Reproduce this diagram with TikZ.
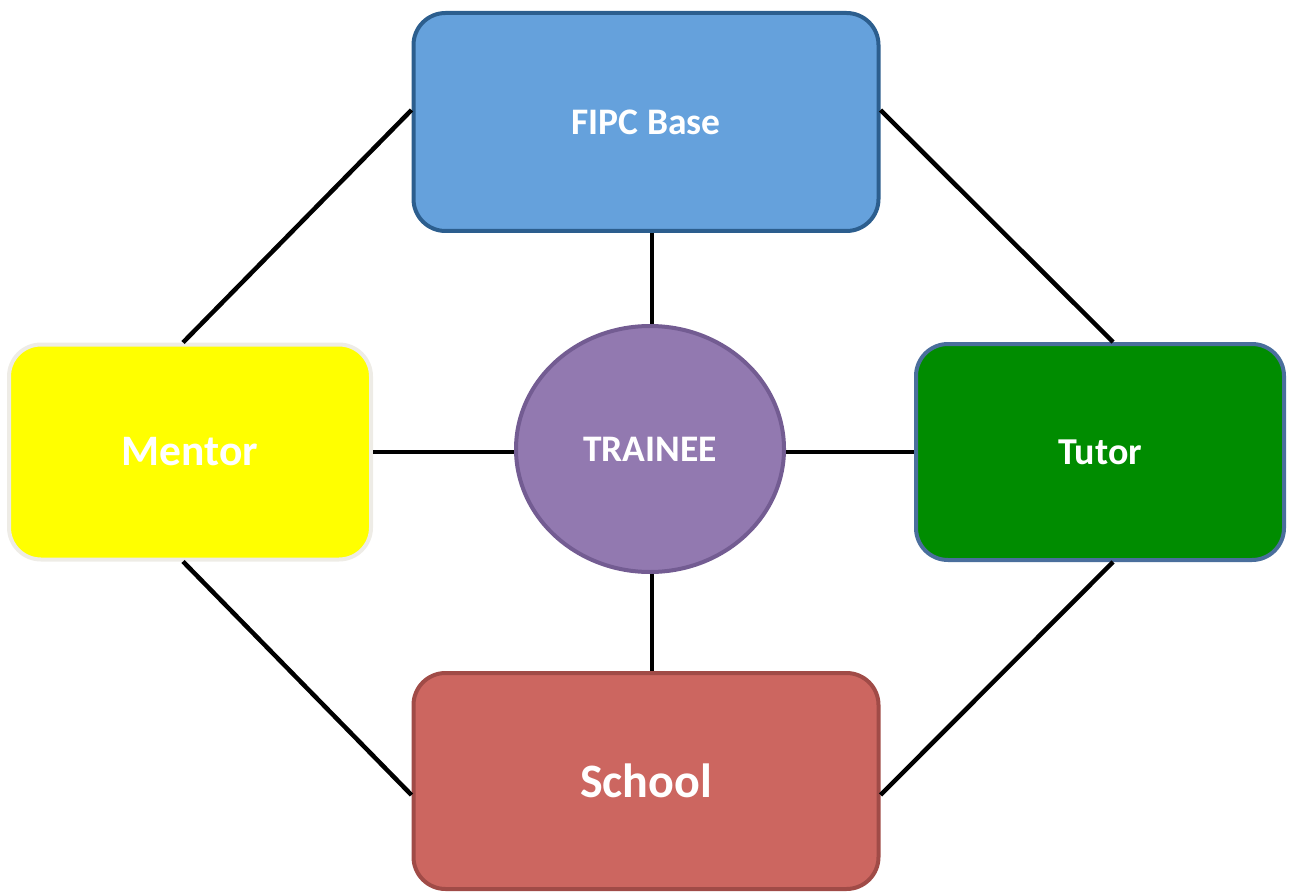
\documentclass[tikz,border=0pt]{standalone}
\usepackage{fontspec}
\setmainfont{Carlito}
\usetikzlibrary{shapes.geometric}
\definecolor{fipcfill}{HTML}{65A1DC}
\definecolor{fipcdraw}{HTML}{2C5E8E}
\definecolor{mentorfill}{HTML}{FFFF00}
\definecolor{mentordraw}{HTML}{EEECE6}
\definecolor{tutorfill}{HTML}{008C00}
\definecolor{tutordraw}{HTML}{4A6E9C}
\definecolor{schoolfill}{HTML}{CC6660}
\definecolor{schooldraw}{HTML}{A04B47}
\definecolor{traineefill}{HTML}{9279B0}
\definecolor{traineedraw}{HTML}{735C92}
\tikzset{
  box/.style={rectangle, rounded corners=32pt, line width=4pt, inner sep=0pt, text=white},
  link/.style={line width=4.5pt, black}
}
\begin{document}
\begin{tikzpicture}[x=1pt,y=-1pt]
\useasboundingbox (0,0) rectangle (1295,893);
\node[box, fill=fipcfill, draw=fipcdraw, minimum width=465pt, minimum height=218pt, font=\bfseries\fontsize{37.5}{40}\selectfont] (fipc) at (646,122) {FIPC Base};
\node[box, fill=mentorfill, draw=mentordraw, minimum width=362pt, minimum height=215pt, font=\bfseries\fontsize{43.5}{46}\selectfont] (mentor) at (190,452) {Mentor};
\node[box, fill=tutorfill, draw=tutordraw, minimum width=368pt, minimum height=216pt, font=\bfseries\fontsize{38}{40}\selectfont] (tutor) at (1100,452) {Tutor};
\node[box, fill=schoolfill, draw=schooldraw, minimum width=465pt, minimum height=216pt, font=\bfseries\fontsize{48}{52}\selectfont] (school) at (646,781) {School};
\node[ellipse, fill=traineefill, draw=traineedraw, line width=4pt, minimum width=268pt, minimum height=246pt, inner sep=0pt, text=white, font=\bfseries\fontsize{37.5}{40}\selectfont] (trainee) at (650,449) {TRAINEE};
\draw[link] (fipc.south -| 652,0) -- (trainee.north -| 652,0);
\draw[link] (trainee.south -| 652,0) -- (school.north -| 652,0);
\draw[link] (mentor.east |- 0,452) -- (trainee.west |- 0,452);
\draw[link] (trainee.east |- 0,452) -- (tutor.west |- 0,452);
\draw[link] (mentor.north -| 183,0) -- (fipc.west |- 0,110);
\draw[link] (fipc.east |- 0,110) -- (tutor.north -| 1113,0);
\draw[link] (mentor.south -| 183,0) -- (school.west |- 0,795);
\draw[link] (tutor.south -| 1113,0) -- (school.east |- 0,795);
\end{tikzpicture}
\end{document}
